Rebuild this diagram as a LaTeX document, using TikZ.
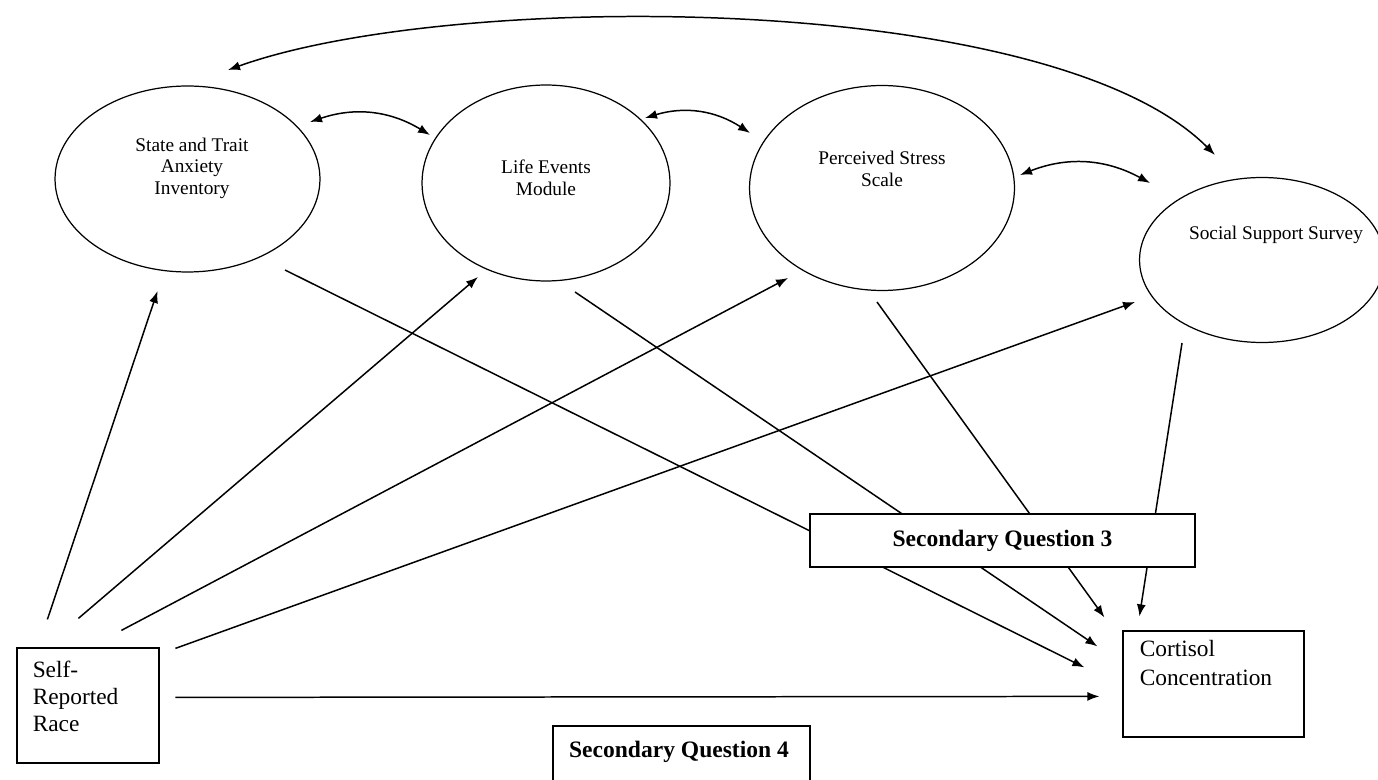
\documentclass[tikz,border=0pt]{standalone}
\usepackage{fontspec}
\setmainfont{Liberation Serif}
\usetikzlibrary{shapes.geometric, arrows.meta, calc}

\begin{document}
\begin{tikzpicture}[x=0.02cm, y=-0.02cm,
    oval/.style={draw, ellipse, line width=0.7pt},
    box/.style={draw, rectangle, line width=0.7pt},
    arr/.style={-{Latex[length=2.4mm, width=1.8mm]}, line width=0.85pt},
    both/.style={{Latex[length=2.4mm, width=1.8mm]}-{Latex[length=2.4mm, width=1.8mm]}, line width=0.85pt},
    otxt/.style={align=center, font=\fontsize{11}{12.2}\selectfont},
    btxt/.style={align=left, anchor=north west, inner sep=0pt, font=\fontsize{13.3}{15.5}\selectfont},
    qtxt/.style={font=\fontsize{13.4}{15}\selectfont\bfseries}]
    \useasboundingbox (0,0) rectangle (1378,780);
    % scales
    \node [oval, minimum width=5.3cm, minimum height=3.72cm] (stai) at (187.5, 179) {};
    \node [oval, minimum width=4.96cm, minimum height=3.92cm] (life) at (546, 183) {};
    \node [oval, minimum width=5.3cm, minimum height=4.1cm] (pss) at (882, 188) {};
    \node [oval, minimum width=4.9cm, minimum height=3.3cm] (sss) at (1262, 260) {};
    \node [otxt] (stai-t) at (192, 168) {State and Trait\\Anxiety\\Inventory};
    \node [otxt] (life-t) at (546, 178) {Life Events\\Module};
    \node [otxt] (pss-t) at (882, 169) {Perceived Stress\\Scale};
    \node [otxt] (sss-t) at (1276, 235) {Social Support Survey};
    % boxes
    \node [box, minimum width=2.84cm, minimum height=2.3cm] (race) at (88, 705.5) {};
    \node [box, minimum width=3.62cm, minimum height=2.12cm] (cort) at (1213.5, 684) {};
    \node [btxt] (race-t) at ($(race.north west)+(16,13)$) {Self-\\Reported\\Race};
    \node [btxt, font=\fontsize{13.3}{16.5}\selectfont] (cort-t) at ($(cort.north west)+(17,10)$) {Cortisol\\Concentration};
    % paths from race
    \draw [arr] ($(race.north west)+(31,-28)$) -- ($(stai.center)+(-30,112)$);
    \draw [arr] ($(race.north west)+(62,-29)$) -- ($(life.center)+(-68,94)$);
    \draw [arr] ($(race.north west)+(105,-17)$) -- ($(pss.center)+(-94,90)$);
    \draw [arr] ($(race.north west)+(159,1)$) -- ($(sss.center)+(-127,42)$);
    \draw [arr] ($(race.north west)+(159,50)$) -- ($(cort.north west)+(-23,66)$);
    % paths to cortisol
    \draw [arr] ($(stai.center)+(97.5,91)$) -- ($(cort.north west)+(-38,37)$);
    \draw [arr] ($(life.center)+(29,109)$) -- ($(cort.north west)+(-25,16)$);
    \draw [arr] ($(pss.center)+(-5,114)$) -- ($(cort.north west)+(-18,-13)$);
    \draw [arr] ($(sss.center)+(-80,83)$) -- ($(cort.north west)+(17,-14)$);
    % correlations
    \draw [both] ($(stai.center)+(122.5,-57)$) to [bend left=25] ($(life.center)+(-116,-48)$);
    \draw [both] ($(life.center)+(99,-65)$) to [bend left=25] ($(pss.center)+(-132,-55)$);
    \draw [both] ($(pss.center)+(138,-13)$) to [bend left=25] ($(sss.center)+(-112,-77)$);
    \draw [both] ($(stai.center)+(40.5,-109)$) .. controls (450,-10) and (1050,-10) .. ($(sss.center)+(-47,-105)$);
    % question boxes
    \node [box, fill=white, minimum width=7.7cm, minimum height=1.06cm, qtxt] (q3) at (1002.5, 540.5) {Secondary Question 3};
    \node [box, minimum width=5.14cm, minimum height=1.4cm] (q4) at (681.5, 761) {};
    \node [qtxt] (q4-t) at (679, 752) {Secondary Question 4};
\end{tikzpicture}
\end{document}
